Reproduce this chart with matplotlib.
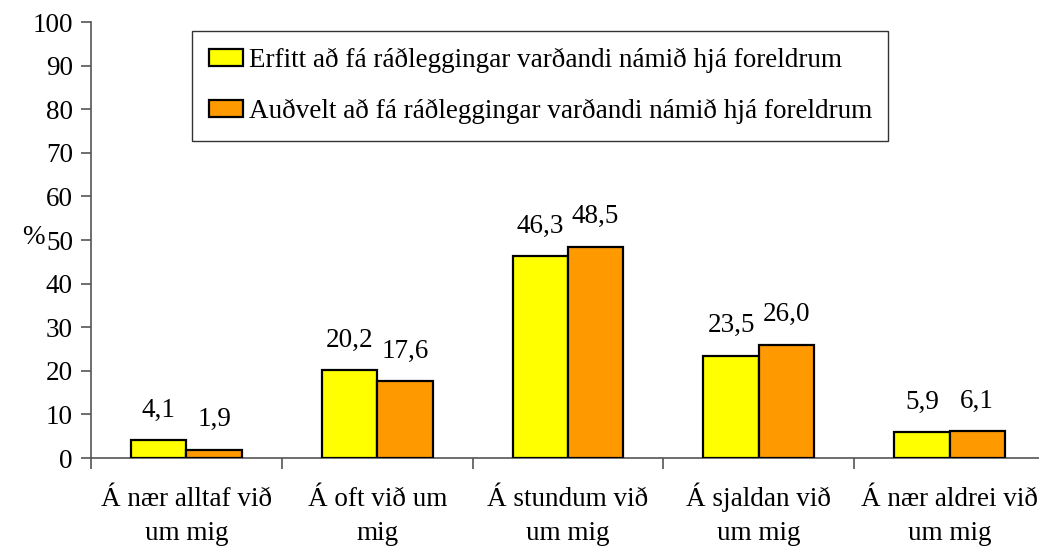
import matplotlib
matplotlib.use("Agg")
import matplotlib.pyplot as plt
from matplotlib.legend_handler import HandlerPatch
from matplotlib.patches import Rectangle
import numpy as np

# ---------- Data ----------
categories = [
    "Á nær alltaf við\num mig",
    "Á oft við um\nmig",
    "Á stundum við\num mig",
    "Á sjaldan við\num mig",
    "Á nær aldrei við\num mig",
]
series_names = [
    "Erfitt að fá ráðleggingar varðandi námið hjá foreldrum",
    "Auðvelt að fá ráðleggingar varðandi námið hjá foreldrum",
]
erfitt = [4.1, 20.2, 46.3, 23.5, 5.9]
audvelt = [1.9, 17.6, 48.5, 26.0, 6.1]
y_ticks = list(range(0, 101, 10))

# ---------- Style ----------
YELLOW = "#FFFF00"
ORANGE = "#FF9900"
AXIS_COLOR = "#555555"
FONT = ["Liberation Serif", "DejaVu Serif"]
FS = 19.5
BAR_W = 0.29
W, H = 1039, 546

plt.rcParams["font.family"] = FONT

fig = plt.figure(figsize=(W / 100, H / 100), dpi=100)
ax = fig.add_axes([91 / W, 1 - 458 / H, (1045 - 91) / W, (458 - 22) / H])

x = np.arange(len(categories))
b1 = ax.bar(x - BAR_W / 2, erfitt, BAR_W, color=YELLOW, edgecolor="black",
            linewidth=1.6, label=series_names[0], zorder=3)
b2 = ax.bar(x + BAR_W / 2, audvelt, BAR_W, color=ORANGE, edgecolor="black",
            linewidth=1.6, label=series_names[1], zorder=3)

fmt = lambda v: f"{v:.1f}".replace(".", ",")
ax.bar_label(b1, labels=[fmt(v) for v in erfitt], padding=12.5, fontsize=FS)
ax.bar_label(b2, labels=[fmt(v) for v in audvelt], padding=12.5, fontsize=FS)

ax.set_xlim(-0.5, len(categories) - 0.5)
ax.set_ylim(0, 100)
ax.set_yticks(y_ticks)
ax.tick_params(axis="y", labelsize=FS, length=7, width=1.2, color=AXIS_COLOR, pad=6)

# category boundary ticks on x; labels placed line by line under centers
ax.set_xticks(np.arange(len(categories) + 1) - 0.5)
ax.set_xticklabels([])
ax.tick_params(axis="x", length=8, width=1.2, color=AXIS_COLOR)
for i, cat in enumerate(categories):
    for j, line in enumerate(cat.split("\n")):
        ax.annotate(line, xy=(i, 0), xycoords=("data", "axes fraction"),
                    xytext=(0, -(48 + 34 * j) * 0.72), textcoords="offset points",
                    ha="center", va="baseline", fontsize=FS, annotation_clip=False)

for side in ("top", "right"):
    ax.spines[side].set_visible(False)
for side in ("left", "bottom"):
    ax.spines[side].set_color(AXIS_COLOR)
    ax.spines[side].set_linewidth(1.2)

fig.text(22 / W, 1 - 238 / H, "%", fontsize=FS, ha="left", va="center")


def square_right(legend, orig_handle, xdescent, ydescent, width, height, fontsize):
    s = height
    return Rectangle((-xdescent + width - s, -ydescent), s, s)


leg = fig.legend(
    loc="upper left",
    bbox_to_anchor=(192 / W, 1 - 137 / H, (888 - 192) / W, (137 - 31) / H),
    mode="expand",
    fontsize=FS,
    frameon=True,
    fancybox=False,
    edgecolor="black",
    handlelength=1.25,
    handleheight=0.63,
    handletextpad=0.25,
    labelspacing=0.95,
    borderpad=0.62,
    borderaxespad=0,
    handler_map={Rectangle: HandlerPatch(patch_func=square_right)},
)
leg.get_frame().set_linewidth(1.0)

fig.savefig("out.png", dpi=100, facecolor="white")
